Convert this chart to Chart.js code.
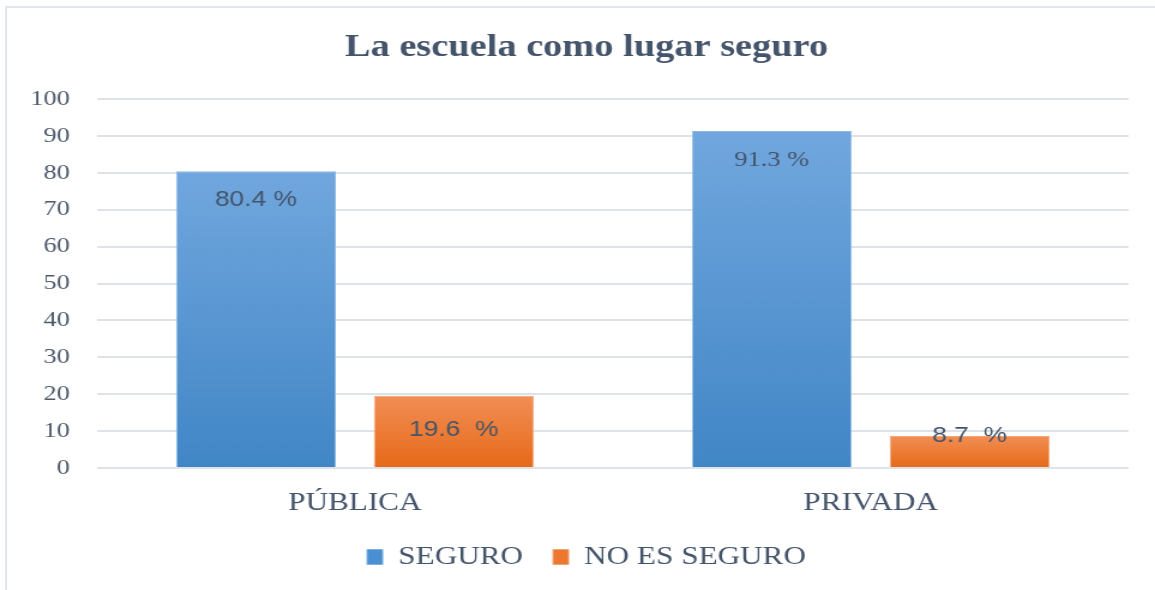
<!DOCTYPE html>
<html>
<head>
<meta charset="utf-8">
<script src="https://cdn.jsdelivr.net/npm/chart.js@4"></script>
<style>
  html, body { margin: 0; padding: 0; background: #fff; overflow: hidden; }
  #wrap { position: relative; width: 1155px; height: 590px; }
  #frame { position: absolute; left: 5px; top: 6px; right: 0; bottom: 0; border-top: 2px solid #e2e6ec; border-left: 2px solid #e2e6ec; }
  /* el original está estirado en horizontal */
  #stretch { position: absolute; left: 0; top: 0; width: 963px; height: 590px; transform: scaleX(1.1994); transform-origin: 0 0; }
</style>
</head>
<body>
<div id="wrap">
  <div id="frame"></div>
  <div id="stretch"><canvas id="c" width="963" height="590"></canvas></div>
</div>
<script>
  // datos
  var categorias = ["PÚBLICA", "PRIVADA"];
  var seguro = [80.4, 91.3];
  var noSeguro = [19.6, 8.7];
  var etiquetasSeguro = ["80.4 %", "91.3 %"];
  var etiquetasNoSeguro = ["19.6  %", "8.7  %"];

  var SERIF = "'Liberation Serif', 'Times New Roman', serif";
  var SANS = "'Liberation Sans', Arial, sans-serif";
  var TEXTO = "#44546A";

  // degradado vertical de cada barra, de su tope a la base
  function gradBar(top, bottom) {
    return function (ctx) {
      var y = ctx.chart.scales && ctx.chart.scales.y;
      if (!y || !ctx.chart.chartArea || ctx.raw == null) return bottom;
      var y0 = y.getPixelForValue(ctx.raw), y1 = y.getPixelForValue(0);
      if (!isFinite(y0) || !isFinite(y1) || y0 === y1) return bottom;
      var g = ctx.chart.ctx.createLinearGradient(0, y0, 0, y1);
      g.addColorStop(0, top);
      g.addColorStop(1, bottom);
      return g;
    };
  }

  // etiquetas dentro de las barras
  var labelPlugin = {
    id: "etiquetas",
    afterDatasetsDraw: function (chart) {
      var c = chart.ctx;
      c.save();
      c.fillStyle = TEXTO;
      c.textAlign = "center";
      c.textBaseline = "middle";
      chart.data.datasets.forEach(function (ds, i) {
        chart.getDatasetMeta(i).data.forEach(function (bar, j) {
          var h = bar.base - bar.y;
          var y = h > 150 ? bar.y + 29 : (h > 40 ? (bar.y + bar.base) / 2 - 1 : bar.y);
          c.font = "22px " + (i === 0 && j === 1 ? SERIF : SANS);
          c.fillText(ds.etiquetas[j], bar.x, y);
        });
      });
      c.restore();
    }
  };

  new Chart(document.getElementById("c"), {
    type: "bar",
    data: {
      labels: categorias,
      datasets: [
        { label: "SEGURO", data: seguro, etiquetas: etiquetasSeguro,
          backgroundColor: gradBar("#71a7de", "#4186c6"), borderColor: "#8dbbe6", borderWidth: 1 },
        { label: "NO ES SEGURO", data: noSeguro, etiquetas: etiquetasNoSeguro,
          backgroundColor: gradBar("#f28e55", "#e66a18"), borderColor: "#f5a77a", borderWidth: 1 }
      ]
    },
    plugins: [labelPlugin],
    options: {
      responsive: false,
      animation: false,
      devicePixelRatio: 1,
      categoryPercentage: 0.767,
      barPercentage: 0.808,
      layout: { padding: { left: 22, right: 7, top: 0, bottom: 10 } },
      plugins: {
        title: {
          display: true, text: "La escuela como lugar seguro", color: TEXTO,
          font: { family: SERIF, size: 32, weight: "bold" }, padding: { top: 29, bottom: 31.6 }
        },
        legend: {
          position: "bottom",
          labels: {
            color: TEXTO, font: { family: SERIF, size: 26 },
            boxWidth: 13, boxHeight: 15, padding: 25,
            generateLabels: function (chart) {
              var cols = [["#4a8fd1", "#7eb0e2"], ["#ec7830", "#f3a374"]];
              return chart.data.datasets.map(function (ds, i) {
                return { text: ds.label, fillStyle: cols[i][0], strokeStyle: cols[i][1], lineWidth: 1, fontColor: TEXTO, datasetIndex: i };
              });
            }
          }
        },
        tooltip: { enabled: false }
      },
      scales: {
        x: {
          grid: { display: false },
          border: { display: false },
          afterFit: function (scale) { scale.height = 51; },
          ticks: { color: TEXTO, font: { family: SERIF, size: 26 }, padding: 12 }
        },
        y: {
          min: 0, max: 100,
          afterFit: function (scale) { scale.width = 58.8; },
          ticks: { stepSize: 10, color: "#4d5a6c", font: { family: SERIF, size: 22 }, padding: 22.5 },
          grid: { color: "#dfe3e9", lineWidth: 2, drawTicks: false },
          border: { display: false }
        },
        // eje vacío a la derecha: solo deja margen para centrar título y leyenda
        derecha: {
          type: "linear", position: "right", min: 0, max: 1,
          afterFit: function (scale) { scale.width = 15; },
          ticks: { display: false }, grid: { display: false }, border: { display: false }
        }
      }
    }
  });
</script>
</body>
</html>
